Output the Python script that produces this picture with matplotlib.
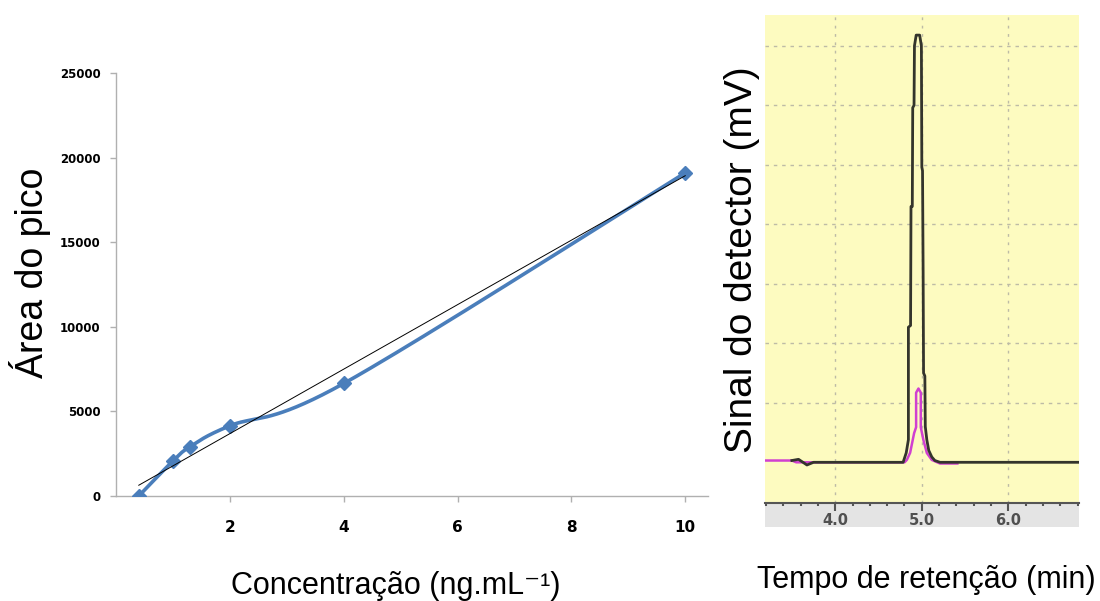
import numpy as np
import matplotlib
matplotlib.use("Agg")
import matplotlib.pyplot as plt
from matplotlib.patches import Rectangle
from matplotlib.ticker import FixedLocator, MultipleLocator, FormatStrFormatter

plt.rcParams['font.family'] = ['Liberation Sans', 'DejaVu Sans']
plt.rcParams['mathtext.default'] = 'regular'

# Calibration curve: peak area vs concentration
conc = [0.4, 1.0, 1.3, 2.0, 4.0, 10.0]
area = [0, 2070, 2910, 4150, 6650, 19100]
conc_ticks = [2, 4, 6, 8, 10]
area_ticks = [0, 5000, 10000, 15000, 20000, 25000]

# Chromatogram, main channel (retention time in min, signal in grid units)
rt_main = [3.50, 3.577, 3.674, 3.75, 4.784, 4.82, 4.845, 4.845, 4.87, 4.875,
           4.89, 4.895, 4.91, 4.915, 4.935, 4.975, 4.995, 5.0, 5.008, 5.015,
           5.02, 5.035, 5.04, 5.058, 5.08, 5.115, 5.15, 5.21, 6.814]
sig_main = [0.03, 0.05, -0.045, 0.0, 0.0, 0.16, 0.38, 2.27, 2.3, 4.3,
            4.3, 5.96, 6.0, 7.0, 7.18, 7.18, 7.0, 4.96, 4.9, 3.2,
            1.5, 1.45, 0.6, 0.375, 0.2, 0.09, 0.03, 0.0, 0.0]

# Chromatogram, second channel
rt_sec = [3.19, 3.50, 3.55, 4.80, 4.827, 4.865, 4.911, 4.934, 4.934, 4.961,
          4.988, 4.988, 5.018, 5.058, 5.115, 5.21, 5.41]
sig_sec = [0.03, 0.03, 0.0, 0.0, 0.04, 0.16, 0.49, 0.59, 1.17, 1.24,
           1.17, 0.59, 0.375, 0.156, 0.04, -0.02, -0.02]
rt_ticks = [4.0, 5.0, 6.0]


def smooth_curve(x, y, n=40):
    """Catmull-Rom style Bezier smoothing through the points."""
    x = np.asarray(x, float)
    y = np.asarray(y, float)
    pts = np.column_stack([x, y])
    out = []
    m = len(pts)
    for i in range(m - 1):
        p0 = pts[max(i - 1, 0)]
        p1 = pts[i]
        p2 = pts[i + 1]
        p3 = pts[min(i + 2, m - 1)]
        c1 = p1 + (p2 - p0) / 6.0
        c2 = p2 - (p3 - p1) / 6.0
        t = np.linspace(0, 1, n)[:, None]
        seg = ((1 - t) ** 3) * p1 + 3 * ((1 - t) ** 2) * t * c1 + 3 * (1 - t) * t ** 2 * c2 + t ** 3 * p2
        out.append(seg if i == 0 else seg[1:])
    out = np.vstack(out)
    return out[:, 0], out[:, 1]


fig = plt.figure(figsize=(11, 6.01), dpi=100)
W, H = 1100, 601

# ---------------- Calibration curve ----------------
ax1 = fig.add_axes([116 / W, (H - 496) / H, (708 - 116) / W, (496 - 73) / H])
ax1.set_xlim(0, 10.4)
ax1.set_ylim(0, 25000)

sx, sy = smooth_curve(conc, area)
ax1.plot(sx, sy, color='#4A7EBB', lw=2.6, solid_capstyle='round', zorder=3)
ax1.plot(conc, area, linestyle='none', marker='D', ms=7, color='#4A7EBB', zorder=4)

slope, intercept = np.polyfit(conc, area, 1)
tx = np.array([min(conc), max(conc)])
ax1.plot(tx, slope * tx + intercept, color='black', lw=0.7, zorder=5)

ax1.xaxis.set_major_locator(FixedLocator(conc_ticks))
ax1.yaxis.set_major_locator(FixedLocator(area_ticks))
for s in ['top', 'right']:
    ax1.spines[s].set_visible(False)
for s in ['left', 'bottom']:
    ax1.spines[s].set_color('#B0B0B0')
    ax1.spines[s].set_linewidth(1.0)
ax1.tick_params(axis='both', direction='out', length=4, color='#B0B0B0', width=1)
ax1.tick_params(axis='x', pad=13)
ax1.tick_params(axis='y', pad=7)
for lab in ax1.get_xticklabels():
    lab.set_fontfamily('DejaVu Sans')
    lab.set_fontweight('bold')
    lab.set_fontsize(11)
for lab in ax1.get_yticklabels():
    lab.set_fontfamily('DejaVu Sans')
    lab.set_fontweight('bold')
    lab.set_fontsize(8.5)

fig.text(30 / W, 1 - 273 / H, 'Área do pico', rotation=90, ha='center', va='center',
         fontsize=27)
fig.text(396 / W, 1 - 594 / H, 'Concentração (ng.mL⁻¹)', ha='center', va='baseline',
         fontsize=22)

# ---------------- Chromatogram ----------------
x0, x1, ytop, ybot = 765, 1079, 15, 503
ax2 = fig.add_axes([x0 / W, (H - ybot) / H, (x1 - x0) / W, (ybot - ytop) / H])
ax2.set_facecolor('#FDFBC0')
ax2.set_xlim(3.19, 6.814)
ax2.set_ylim(-0.684, 7.518)

# band under the time axis, behind the tick labels
fig.patches.append(Rectangle((x0 / W, (H - 527) / H), (x1 - x0) / W, (527 - ybot) / H,
                             transform=fig.transFigure, facecolor='#E4E4E4',
                             edgecolor='none', zorder=-1))

for g in range(1, 8):
    ax2.axhline(g, color='#BDBBA6', lw=1.0, linestyle=(0, (2.5, 3.5)), zorder=1)
for g in rt_ticks:
    ax2.axvline(g, color='#BDBBA6', lw=1.0, linestyle=(0, (2.0, 4.0)), zorder=1)

ax2.plot(rt_sec, sig_sec, color='#D040D0', lw=1.8, zorder=2)
ax2.plot(rt_main, sig_main, color='#34342C', lw=2.0, zorder=3)

for s in ['top', 'right', 'left']:
    ax2.spines[s].set_visible(False)
ax2.spines['bottom'].set_color('#555555')
ax2.spines['bottom'].set_linewidth(1.5)
ax2.set_yticks([])
ax2.xaxis.set_major_locator(FixedLocator(rt_ticks))
ax2.xaxis.set_major_formatter(FormatStrFormatter('%.1f'))
ax2.xaxis.set_minor_locator(MultipleLocator(0.2))
ax2.tick_params(axis='x', which='major', direction='out', length=6, width=1.5,
                color='#555555', pad=1, labelcolor='#505050')
ax2.tick_params(axis='x', which='minor', direction='out', length=2.5, width=1.5,
                color='#555555')
for lab in ax2.get_xticklabels():
    lab.set_fontfamily('DejaVu Sans')
    lab.set_fontweight('bold')
    lab.set_fontsize(10.5)

fig.text(742 / W, 1 - 259.5 / H, 'Sinal do detector (mV)', rotation=90, ha='center',
         va='center', fontsize=28)
fig.text(926 / W, 1 - 588 / H, 'Tempo de retenção (min)', ha='center', va='baseline',
         fontsize=22)

fig.savefig('out.png', dpi=100, facecolor='white')
